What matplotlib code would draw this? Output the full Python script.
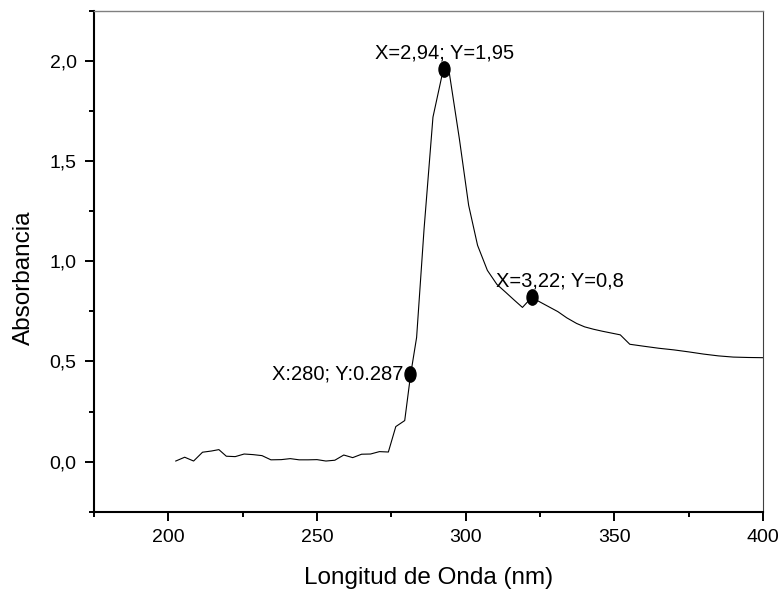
import matplotlib
matplotlib.use("Agg")
import matplotlib.pyplot as plt
from matplotlib.ticker import MultipleLocator, FuncFormatter
from matplotlib.path import Path
from matplotlib.transforms import Affine2D

plt.rcParams['font.family'] = ['Liberation Sans', 'DejaVu Sans']

wavelength = [202.5, 205.5, 208.5, 211.5, 214.5, 217.0, 219.5, 222.5, 225.5, 228.5,
              231.5, 234.5, 238.0, 241.0, 244.0, 247.0, 250.0, 253.0, 256.0, 259.0,
              262.0, 265.0, 268.0, 271.0, 274.0, 276.5, 279.5, 281.5, 283.5, 286.0,
              289.0, 292.5, 294.3, 297.9, 301.0, 304.0, 307.3, 310.5, 313.5, 316.3,
              319.1, 322.2, 325.0, 328.0, 331.0, 334.0, 337.3, 340.0, 343.0, 346.0,
              349.0, 352.0, 355.2, 360.0, 365.0, 370.0, 375.0, 380.0, 385.0, 390.0,
              395.0, 400.0]
absorbance = [0.003, 0.022, 0.003, 0.047, 0.053, 0.060, 0.027, 0.025, 0.038, 0.035,
              0.030, 0.009, 0.010, 0.015, 0.009, 0.009, 0.010, 0.003, 0.007, 0.033,
              0.020, 0.037, 0.038, 0.050, 0.048, 0.175, 0.205, 0.436, 0.620, 1.160,
              1.720, 1.960, 1.960, 1.610, 1.280, 1.080, 0.955, 0.885, 0.845, 0.807,
              0.770, 0.820, 0.797, 0.773, 0.749, 0.718, 0.690, 0.673, 0.661, 0.651,
              0.642, 0.633, 0.586, 0.576, 0.566, 0.558, 0.548, 0.537, 0.528, 0.522,
              0.520, 0.519]

marked_x = [281.3, 292.6, 322.3]
marked_y = [0.436, 1.960, 0.820]
marked_labels = ["X:280; Y:0.287", "X=2,94; Y=1,95", "X=3,22; Y=0,8"]

fig = plt.figure(figsize=(7.82, 5.89), dpi=100)
ax = fig.add_axes([94/782, 1-511.7/589, (763-94)/782, (511.7-11)/589])

ax.plot(wavelength, absorbance, color='black', lw=0.8)

circ = Path.unit_circle()
ellipse = circ.transformed(Affine2D().scale(0.72, 1.0))
ax.plot(marked_x, marked_y, linestyle='none', marker=ellipse, markersize=11,
        color='black')

fs_ann = 14.5
ax.text(marked_x[0] - 2.3, marked_y[0], marked_labels[0], ha='right', va='center', fontsize=fs_ann)
ax.text(marked_x[1] + 0.3, marked_y[1] + 0.035, marked_labels[1], ha='center', va='bottom', fontsize=fs_ann)
ax.text(310.3, marked_y[2] + 0.035, marked_labels[2], ha='left', va='bottom', fontsize=fs_ann)

ax.set_xlim(175, 400)
ax.set_ylim(-0.25, 2.25)
ax.xaxis.set_major_locator(MultipleLocator(50))
ax.xaxis.set_minor_locator(MultipleLocator(25))
ax.yaxis.set_major_locator(MultipleLocator(0.5))
ax.yaxis.set_minor_locator(MultipleLocator(0.25))
ax.yaxis.set_major_formatter(FuncFormatter(lambda v, p: f"{v:.1f}".replace('.', ',')))
ax.xaxis.set_major_formatter(FuncFormatter(lambda v, p: f"{v:.0f}"))

ax.tick_params(which='major', direction='out', length=6.5, width=1.4, labelsize=14, pad=6)
ax.tick_params(which='minor', direction='out', length=3.3, width=1.4)

for s in ['left', 'bottom']:
    ax.spines[s].set_linewidth(1.5)
ax.spines['top'].set_color('#808080')
ax.spines['top'].set_linewidth(1.0)
ax.spines['right'].set_color('#404040')
ax.spines['right'].set_linewidth(0.8)

ax.set_xlabel('Longitud de Onda (nm)', fontsize=17.5, labelpad=15)
ax.set_ylabel('Absorbancia', fontsize=17.5)
ax.yaxis.set_label_coords(-0.088, 0.468)

fig.savefig('out.png', dpi=100)
